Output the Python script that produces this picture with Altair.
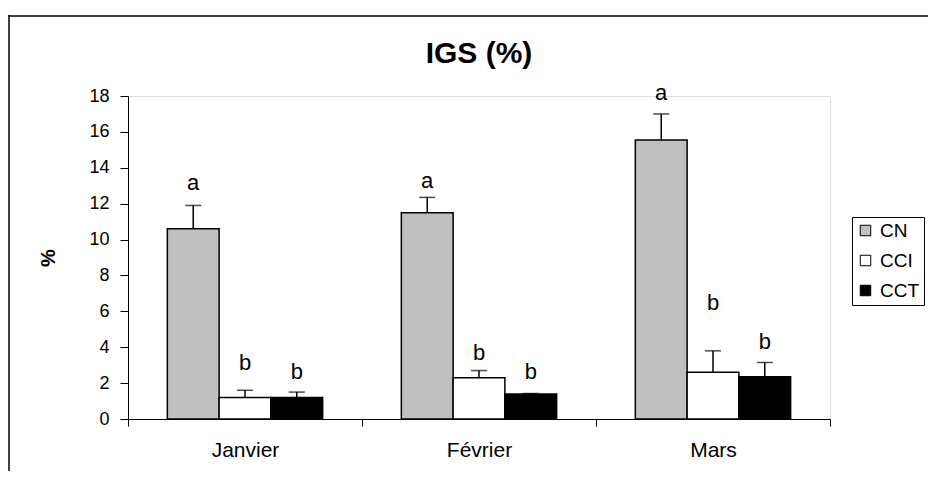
import altair as alt
import pandas as pd

months = ["Janvier", "Février", "Mars"]
groups = ["CN", "CCI", "CCT"]
colors = ["#c0c0c0", "#ffffff", "#000000"]

cn = [10.6, 11.5, 15.55]
cn_err = [1.3, 0.85, 1.45]
cci = [1.2, 2.3, 2.6]
cci_err = [0.4, 0.4, 1.2]
cct = [1.2, 1.4, 2.35]
cct_err = [0.3, 0.02, 0.8]

cn_letter = ["a", "a", "a"]
cci_letter = ["b", "b", "b"]
cct_letter = ["b", "b", "b"]
cn_letter_y = [13.15, 13.25, 18.15]
cci_letter_y = [3.1, 3.7, 6.45]
cct_letter_y = [2.6, 2.6, 4.3]

rows = []
for g, vals, errs, lets, ly in [
    ("CN", cn, cn_err, cn_letter, cn_letter_y),
    ("CCI", cci, cci_err, cci_letter, cci_letter_y),
    ("CCT", cct, cct_err, cct_letter, cct_letter_y),
]:
    for m, v, e, l, y in zip(months, vals, errs, lets, ly):
        rows.append({"month": m, "group": g, "value": v, "top": v + e,
                     "letter": l, "ly": y})
df = pd.DataFrame(rows)

FONT = "Liberation Sans"
W, H = 702, 323
PAD_R, PAD_B = 98, 52

x_axis = alt.Axis(labelAngle=0, tickBand="extent", title=None)
y_axis = alt.Axis(values=list(range(0, 19, 2)), title="%",
                  titleAngle=-90, titleX=-80, titleY=H / 2,
                  titleAlign="center", titleBaseline="middle")
x_scale = alt.Scale(paddingInner=0, paddingOuter=0)
y_scale = alt.Scale(domain=[0, 18], nice=False)


def X():
    return alt.X("month:N", sort=months, title=None, scale=x_scale, axis=x_axis)


def Y(field):
    return alt.Y(field, title="%", scale=y_scale, axis=y_axis)


xo = alt.XOffset("group:N", sort=groups,
                 scale=alt.Scale(paddingInner=0, paddingOuter=0.76))

color = alt.Color("group:N", sort=groups,
                  scale=alt.Scale(domain=groups, range=colors),
                  legend=alt.Legend(title=None, orient="none", legendX=724,
                                    legendY=121))

base = alt.Chart(df)

one = base.transform_filter(alt.datum.group == "CN").transform_filter(
    alt.datum.month == "Janvier")
frame_top = one.mark_rule(color="black", strokeWidth=1.5).encode(
    x=alt.value(-120), x2=alt.value(W + PAD_R), y=alt.value(-80))
frame_left = one.mark_rule(color="black", strokeWidth=1.5).encode(
    x=alt.value(-119), y=alt.value(-81), y2=alt.value(H + PAD_B))

bars = base.mark_bar(stroke="black", strokeWidth=1.5).encode(
    x=X(), xOffset=xo, y=Y("value:Q"), color=color)

err = base.mark_rule(color="black", strokeWidth=1.5).encode(
    x=X(), xOffset=xo, y=Y("value:Q"), y2="top:Q")

caps = base.mark_tick(color="black", thickness=1.5, size=16).encode(
    x=X(), xOffset=xo, y=Y("top:Q"))

letters = base.mark_text(font=FONT, fontSize=22, color="black",
                         baseline="middle").encode(
    x=X(), xOffset=xo, y=Y("ly:Q"), text="letter:N")

chart = alt.layer(frame_top, frame_left, bars, err, caps, letters).properties(
    width=W, height=H,
    title=alt.Title("IGS (%)", font=FONT, fontSize=30, fontWeight="bold",
                    anchor="middle", baseline="alphabetic", offset=-79,
                    frame="group", color="black"),
    autosize=alt.AutoSizeParams(type="none"),
    padding={"left": 120, "top": 88, "right": PAD_R, "bottom": PAD_B},
).configure_view(stroke=None).configure(background="white").configure_axis(
    labelFont=FONT, labelColor="black", tickColor="black",
    domainColor="black", grid=False,
    titleFont=FONT, titleFontSize=20, titleFontWeight="bold", titleColor="black"
).configure_axisX(tickSize=7, labelPadding=13, labelFontSize=21).configure_axisY(
    tickSize=8, labelPadding=11, labelFontSize=18
).configure_legend(
    symbolType="square", symbolSize=110, symbolStrokeColor="black",
    symbolStrokeWidth=1, labelFont=FONT, labelFontSize=19, labelColor="black",
    strokeColor="black", fillColor="white", padding=4, rowPadding=10,
    labelOffset=5)

chart.save("out.html", embed_options={"renderer": "svg", "actions": False})
